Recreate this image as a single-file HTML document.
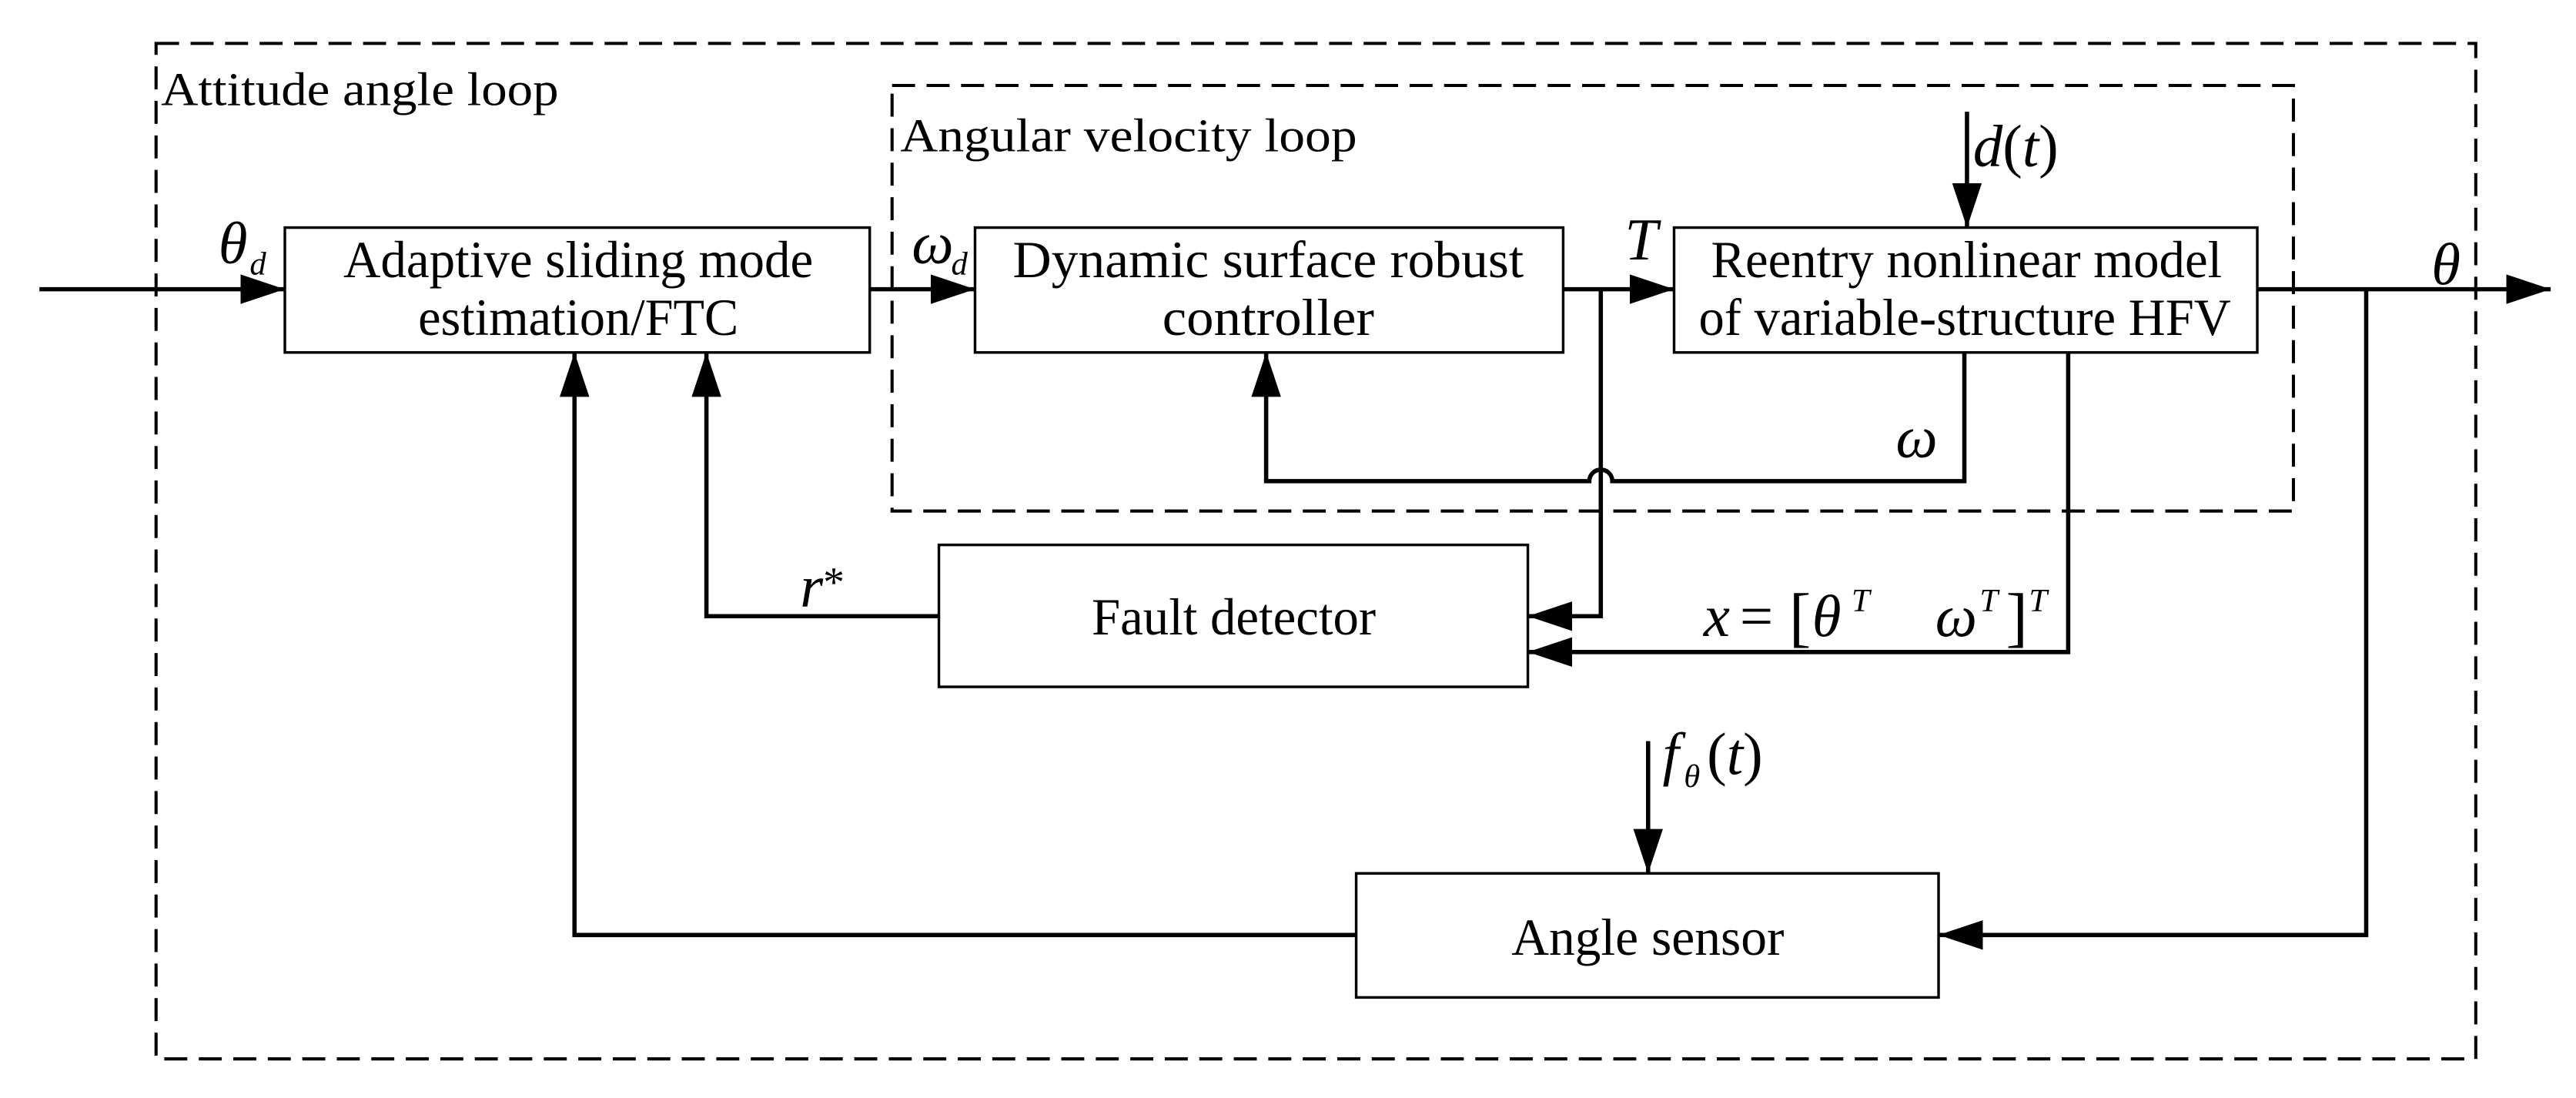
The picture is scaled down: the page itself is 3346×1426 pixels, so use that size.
<!DOCTYPE html>
<html><head><meta charset="utf-8"><style>html,body{margin:0;padding:0;background:#fff}svg{display:block}</style></head>
<body>
<svg width="3346" height="1426" viewBox="0 0 1568 668.2" preserveAspectRatio="none" xmlns="http://www.w3.org/2000/svg" font-family="'Liberation Serif', serif">
<defs>
<marker id="a" viewBox="0 0 27 18" refX="27" refY="9" markerWidth="27" markerHeight="18" markerUnits="userSpaceOnUse" orient="auto"><path d="M0,0 L27,9 L0,18 Z" fill="#000"/></marker>
</defs>
<g fill="none" stroke="#000" stroke-width="1.9" stroke-dasharray="14,7">
<rect x="95" y="26.4" width="1412" height="618"/>
<rect x="543" y="52" width="853" height="259"/>
</g>
<g fill="none" stroke="#000" stroke-width="1.6">
<rect x="173.4" y="138.5" width="356" height="76"/>
<rect x="593.5" y="138.5" width="358" height="76"/>
<rect x="1019" y="138.5" width="355" height="76"/>
<rect x="571.5" y="331.6" width="358.5" height="86.4"/>
<rect x="825.5" y="531.5" width="354.5" height="75.5"/>
</g>
<g fill="none" stroke="#000" stroke-width="2.6" marker-end="url(#a)">
<path d="M24,176 H173.4"/>
<path d="M529.5,176 H593.5"/>
<path d="M951.5,176 H1019"/>
<path d="M1374,176 H1552.6"/>
<path d="M974.4,176 V375 H930"/>
<path d="M1258.9,214.5 V396.8 H930"/>
<path d="M1195.7,214.5 V292.8 H981.4 A7,7 0 0 0 967.4,292.8 H770.7 V214.5"/>
<path d="M1440.3,176 V569 H1180"/>
<path d="M571.5,375 H430 V214.5"/>
<path d="M825.5,569 H349.7 V214.5"/>
<path d="M1197.3,68 V138.5"/>
<path d="M1003.2,451 V531.5"/>
</g>
<g font-size="32" fill="#000" text-anchor="middle">
<text x="352" y="168.7" textLength="286" lengthAdjust="spacingAndGlyphs">Adaptive sliding mode</text>
<text x="352" y="203.8" textLength="195" lengthAdjust="spacingAndGlyphs">estimation/FTC</text>
<text x="772" y="168.7" textLength="311" lengthAdjust="spacingAndGlyphs">Dynamic surface robust</text>
<text x="772" y="203.8" textLength="129" lengthAdjust="spacingAndGlyphs">controller</text>
<text x="1197" y="168.7" textLength="311" lengthAdjust="spacingAndGlyphs">Reentry nonlinear model</text>
<text x="1196" y="203.8" textLength="324" lengthAdjust="spacingAndGlyphs">of variable-structure HFV</text>
<text x="751" y="386" textLength="173" lengthAdjust="spacingAndGlyphs">Fault detector</text>
<text x="1003" y="581" textLength="166" lengthAdjust="spacingAndGlyphs">Angle sensor</text>
</g>
<g font-size="29" fill="#000">
<text x="98" y="64" textLength="242" lengthAdjust="spacingAndGlyphs">Attitude angle loop</text>
<text x="548" y="92" textLength="278" lengthAdjust="spacingAndGlyphs">Angular velocity loop</text>
</g>
<g font-size="36" fill="#000" font-style="italic">
<text x="133" y="160">θ</text><text x="152" y="167" font-size="20">d</text>
<text x="555" y="160">ω</text><text x="579" y="167" font-size="20">d</text>
<text x="989" y="158">T</text>
<text x="1480" y="173">θ</text>
<text x="1201" y="101">d<tspan font-style="normal">(</tspan>t<tspan font-style="normal">)</tspan></text>
<text x="1154" y="278">ω</text>
<text x="487" y="369">r<tspan font-style="normal" font-size="26" dy="-6">*</tspan></text>
<text x="1012" y="471">f</text><text x="1025" y="479" font-size="20">θ</text><text x="1039" y="471"><tspan font-style="normal">(</tspan>t<tspan font-style="normal">)</tspan></text>
<text x="1037" y="387">x</text>
<text x="1059" y="387" font-style="normal">=</text>
<text x="1089" y="389" font-style="normal" font-size="40">[</text>
<text x="1103" y="387">θ</text>
<text x="1127" y="372" font-size="20">T</text>
<text x="1178" y="387">ω</text>
<text x="1205" y="372" font-size="20">T</text>
<text x="1221" y="389" font-style="normal" font-size="40">]</text>
<text x="1235" y="372" font-size="20">T</text>
</g>
</svg>
</body></html>
